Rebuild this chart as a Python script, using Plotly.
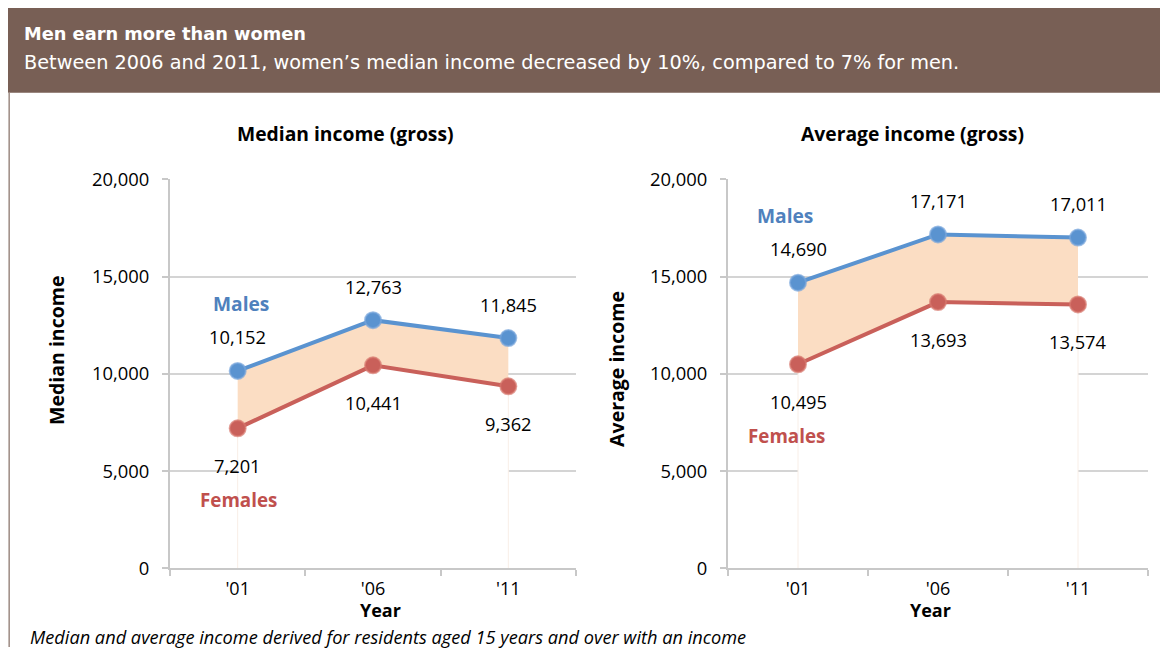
import plotly.graph_objects as go
from plotly.subplots import make_subplots

years = ["'01", "'06", "'11"]
median_males = [10152, 12763, 11845]
median_females = [7201, 10441, 9362]
average_males = [14690, 17171, 17011]
average_females = [10495, 13693, 13574]

y_ticks = [0, 5000, 10000, 15000, 20000]

W, H = 1168, 650
BLUE = '#5A93D0'
RED = '#C9605A'
BLUE_TXT = '#4F81BD'
RED_TXT = '#C0504D'
BAND = '#FBDDC3'
FONT = 'Open Sans'


# screen pixel -> paper fraction (the page puts the figure at a small offset)
def px(x):
    return (x - 8) / W


def py(y):
    y = (y - 2.2) / 0.9934
    return 1 - (y - 19) / 631


fig = make_subplots(rows=1, cols=2)

panels = [
    (1, median_males, median_females),
    (2, average_males, average_females),
]

for col, males, females in panels:
    # white area under females hides the gridlines, like the Excel stacked area
    fig.add_trace(go.Scatter(x=years, y=females, mode='lines', fill='tozeroy',
                             fillcolor='white', line=dict(width=0),
                             hoverinfo='skip', showlegend=False), row=1, col=col)
    fig.add_trace(go.Scatter(x=years, y=males, mode='lines', fill='tonexty',
                             fillcolor=BAND, line=dict(width=0),
                             hoverinfo='skip', showlegend=False), row=1, col=col)
    # faint edges of the area
    for i in (0, len(years) - 1):
        fig.add_trace(go.Scatter(x=[years[i], years[i]], y=[0, females[i]], mode='lines',
                                 line=dict(color='#F8EEE7', width=1),
                                 hoverinfo='skip', showlegend=False), row=1, col=col)
    fig.add_trace(go.Scatter(x=years, y=females, mode='lines+markers', name='Females',
                             line=dict(color=RED, width=4),
                             marker=dict(size=16, color=RED, line=dict(color='rgba(215,120,110,0.7)', width=2)),
                             showlegend=False), row=1, col=col)
    fig.add_trace(go.Scatter(x=years, y=males, mode='lines+markers', name='Males',
                             line=dict(color=BLUE, width=4),
                             marker=dict(size=16, color=BLUE, line=dict(color='rgba(120,165,220,0.7)', width=2)),
                             showlegend=False), row=1, col=col)

    xref = 'x' if col == 1 else 'x2'
    yref = 'y' if col == 1 else 'y2'
    for i, v in enumerate(males):
        fig.add_annotation(x=years[i], y=v, xref=xref, yref=yref, text=f'{v:,}',
                           showarrow=False, yshift=34, font=dict(size=18.3, color='black'))
    for i, v in enumerate(females):
        fig.add_annotation(x=years[i], y=v, xref=xref, yref=yref, text=f'{v:,}',
                           showarrow=False, yshift=-37, font=dict(size=18.3, color='black'))
    fig.add_annotation(x=years[0], y=males[0], xref=xref, yref=yref, text='<b>Males</b>',
                       showarrow=False, yshift=67, xshift=3 if col == 1 else -13,
                       font=dict(size=19.2, color=BLUE_TXT))
    fig.add_annotation(x=years[0], y=females[0], xref=xref, yref=yref, text='<b>Females</b>',
                       showarrow=False, yshift=-72, xshift=1 if col == 1 else -12,
                       font=dict(size=18.8, color=RED_TXT))

axis_common = dict(showline=True, linecolor='#C8C8C8', linewidth=2,
                   ticks='outside', ticklen=6, tickwidth=2, tickcolor='#C8C8C8')

fig.update_xaxes(**axis_common, tickson='boundaries', showgrid=False,
                 tickfont=dict(size=18, color='black', family=FONT),
                 ticklabelstandoff=3,
                 range=[-0.5, 2.5], fixedrange=True)
fig.update_yaxes(**axis_common, range=[0, 20000], tickvals=y_ticks,
                 ticktext=[f'{t:,}' for t in y_ticks], showgrid=True,
                 gridcolor='#D4D4D4', gridwidth=1.5, zeroline=False,
                 ticklabelstandoff=9,
                 tickfont=dict(size=18.4, color='black', family=FONT))

fig.update_layout(
    width=W, height=H,
    margin=dict(l=0, r=0, t=0, b=0),
    paper_bgcolor='white', plot_bgcolor='white',
    font=dict(family=FONT, color='black'),
    xaxis=dict(domain=[px(170), px(576)]),
    xaxis2=dict(domain=[px(728), px(1148)]),
    yaxis=dict(domain=[py(569), py(179)]),
    yaxis2=dict(domain=[py(569), py(179)]),
)

# header band and panel border
fig.add_shape(type='rect', xref='paper', yref='paper', x0=0, x1=1, y0=py(92), y1=1.05,
              fillcolor='#785F55', line=dict(width=0), layer='below')
fig.add_shape(type='line', xref='paper', yref='paper', x0=0.001, x1=0.001, y0=0, y1=py(92),
              line=dict(color='#9C8A82', width=1.5))

paper_notes = [
    ('<b>Men earn more than women</b>', 22, 33, 17.8, 'white', 'left', 0, 'DejaVu Sans'),
    ('Between 2006 and 2011, women\u2019s median income decreased by 10%, compared to 7% for men.',
     22, 62, 19.3, 'white', 'left', 0, 'DejaVu Sans'),
    ('<b>Median income (gross)</b>', 345, 133, 19.3, 'black', 'center', 0, FONT),
    ('<b>Average income (gross)</b>', 912, 133, 19.3, 'black', 'center', 0, FONT),
    ('<b>Year</b>', 380, 611, 18, 'black', 'center', 0, FONT),
    ('<b>Year</b>', 930, 611, 18, 'black', 'center', 0, FONT),
    ('<b>Median income</b>', 57, 351, 19.5, 'black', 'center', -90, FONT),
    ('<b>Average income</b>', 617, 369, 19.5, 'black', 'center', -90, FONT),
    ('<i>Median and average income derived for residents aged 15 years and over with an income</i>',
     28, 638, 18.2, 'black', 'left', 0, FONT),
]
for text, x, y, size, color, align, angle, fam in paper_notes:
    fig.add_annotation(text=text, xref='paper', yref='paper', x=px(x), y=py(y),
                       xanchor=align, yanchor='middle', showarrow=False, textangle=angle,
                       font=dict(size=size, color=color, family=fam))

fig.write_html('out.html')
